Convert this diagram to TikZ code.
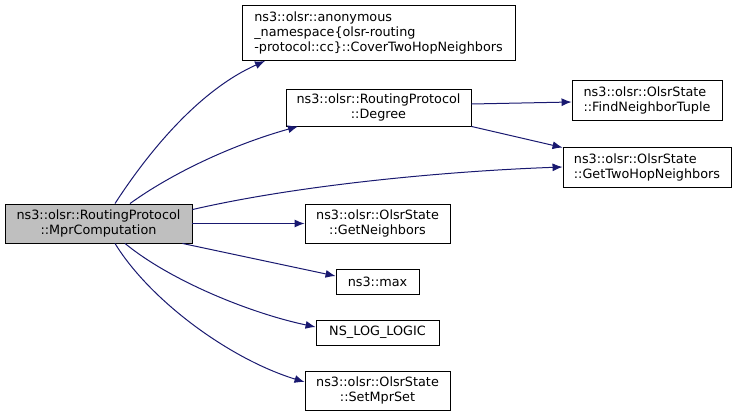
\documentclass[tikz,border=0pt]{standalone}
\usepackage{fontspec}
\setmainfont{DejaVu Sans}
\usetikzlibrary{arrows.meta}
\definecolor{edgec}{HTML}{191970}
\begin{document}
\begin{tikzpicture}[x=1pt,y=-1pt,
  box/.style={draw=black, line width=0.9pt, fill=white, inner sep=0pt, font=\fontsize{12.8}{15}\selectfont},
  edge/.style={draw=edgec, line width=1pt, -{Latex[length=10pt,width=8pt]}}]
\useasboundingbox (0,0) rectangle (739,418);
\node[box, fill={rgb,255:red,191;green,191;blue,191}, minimum width=187pt, minimum height=39pt, align=center] (mpr) at (98.5,223.5) {ns3::olsr::RoutingProtocol\\::MprComputation};
\node[box, minimum width=273pt, minimum height=55pt, align=left] (cover) at (378.5,32.5) {ns3::olsr::anonymous\\\_namespace\{olsr-routing\\-protocol::cc\}::CoverTwoHopNeighbors};
\node[box, minimum width=185pt, minimum height=37pt, align=center] (deg) at (378.5,107.5) {ns3::olsr::RoutingProtocol\\::Degree};
\node[box, minimum width=150pt, minimum height=40pt, align=left] (find) at (647,100) {ns3::olsr::OlsrState\\::FindNeighborTuple};
\node[box, minimum width=168pt, minimum height=40pt, align=left] (two) at (647,167) {ns3::olsr::OlsrState\\::GetTwoHopNeighbors};
\node[box, minimum width=145pt, minimum height=39pt, align=center] (nei) at (377.5,223.5) {ns3::olsr::OlsrState\\::GetNeighbors};
\node[box, minimum width=83pt, minimum height=25pt, align=center] (max) at (377.5,281.5) {ns3::max};
\node[box, minimum width=123pt, minimum height=25pt, align=center] (log) at (377.5,332.5) {NS\_LOG\_LOGIC};
\node[box, minimum width=145pt, minimum height=39pt, align=center] (set) at (377.5,390.5) {ns3::olsr::OlsrState\\::SetMprSet};
\draw[edge] ([xshift=16.5pt]mpr.north) .. controls +(35,-54) and +(-65,29) .. ([xshift=-113.5pt,yshift=-0.5pt]cover.south);
\draw[edge] ([xshift=31.5pt]mpr.north) .. controls +(40,-29) and +(-68,19) .. ([xshift=-80.5pt]deg.south);
\draw[edge] ([yshift=-6pt]mpr.north east) .. controls +(108,-25) and +(-113,4) .. (two.west);
\draw[edge] (mpr.east) -- (nei.west);
\draw[edge] ([xshift=-10pt]mpr.south east) -- ([yshift=5.5pt]max.west);
\draw[edge] ([xshift=26.5pt]mpr.south) .. controls +(45,37) and +(-66,-14) .. ([yshift=5.5pt]log.west);
\draw[edge] ([xshift=16.5pt]mpr.south) .. controls +(35,57) and +(-75,-23) .. ([yshift=8.5pt]set.west);
\draw[edge] ([yshift=3.5pt]deg.east) -- ([yshift=-2pt]find.west);
\draw[edge] (deg.south east) -- ([yshift=-1pt]two.north west);
\end{tikzpicture}
\end{document}
